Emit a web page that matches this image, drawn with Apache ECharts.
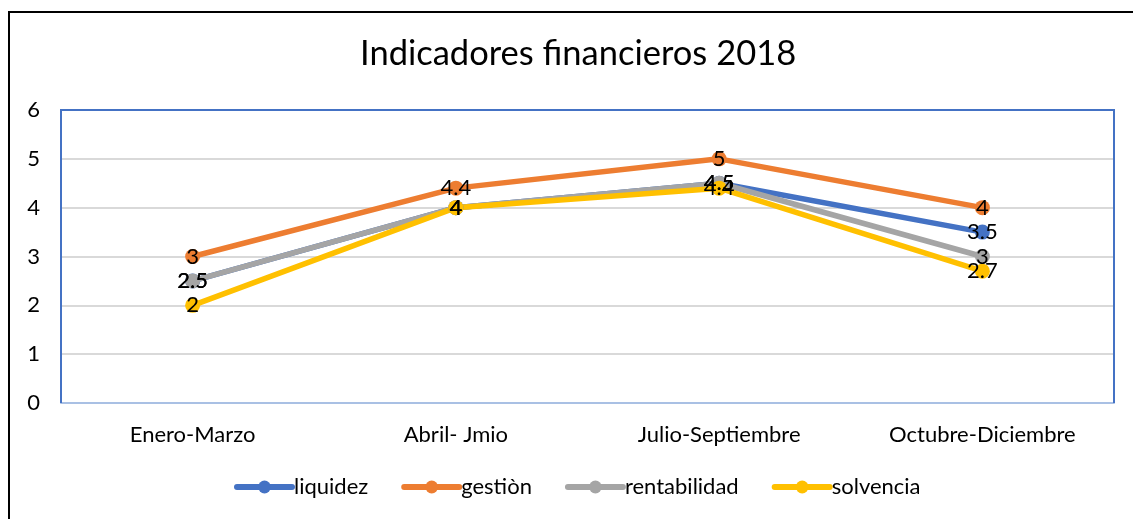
<!DOCTYPE html>
<html><head><meta charset="utf-8">
<script src="https://cdn.jsdelivr.net/npm/echarts@6/dist/echarts.min.js"></script>
<style>
html,body{margin:0;padding:0;background:#fff;overflow:hidden;}
#frame{position:absolute;left:8px;top:11px;width:1200px;height:600px;border:2px solid #000;box-sizing:border-box;}
#c{position:absolute;left:0;top:0;width:1133px;height:519px;}
</style></head>
<body>
<div id="frame"></div>
<div id="c"></div>
<script>
const categories = ['Enero-Marzo', 'Abril- Jmio', 'Julio-Septiembre', 'Octubre-Diciembre'];
const liquidez = [2.5, 4, 4.5, 3.5];
const gestion = [3, 4.4, 5, 4];
const rentabilidad = [2.5, 4, 4.5, 3];
const solvencia = [2, 4, 4.4, 2.7];
const seriesNames = ['liquidez', 'gestiòn', 'rentabilidad', 'solvencia'];
const colors = ['#4472C4', '#ED7D31', '#A5A5A5', '#FFC000'];
const yTicks = [0, 1, 2, 3, 4, 5, 6];

const font = 'Lato';
const G = {left: 61, right: 19, top: 110, bottom: 116};
const R = 1133 - G.right, B = 519 - G.bottom;
const chart = echarts.init(document.getElementById('c'));
const mk = (name, data, color) => ({
  name, type: 'line', data,
  symbol: 'circle', symbolSize: 15,
  lineStyle: {width: 5.5, color, cap: 'round'},
  itemStyle: {color},
  label: {show: true, position: 'inside', color: '#000', fontSize: 22, fontFamily: font},
  emphasis: {disabled: true},
  animation: false
});
chart.setOption({
  animation: false,
  title: {text: 'Indicadores financieros 2018', left: 355, top: 31,
    textStyle: {fontFamily: font, fontWeight: 'normal', fontSize: 34.5, color: '#000'}},
  grid: G,
  graphic: [{type: 'polyline', z: 100, silent: true,
    shape: {points: [[G.left, B], [G.left, G.top], [R, G.top], [R, B]]},
    style: {fill: 'none', stroke: '#4472C4', lineWidth: 2}}],
  xAxis: {type: 'category', data: categories, boundaryGap: true,
    axisLine: {lineStyle: {color: '#A9C0E4', width: 2}}, axisTick: {show: false},
    axisLabel: {fontFamily: font, fontSize: 22, color: '#000', margin: 21}},
  yAxis: {type: 'value', min: yTicks[0], max: yTicks[yTicks.length-1], interval: 1,
    axisLine: {show: false}, axisTick: {show: false},
    splitLine: {lineStyle: {color: '#D9D9D9', width: 2}},
    axisLabel: {fontFamily: font, fontSize: 22, color: '#000', margin: 21}},
  legend: {bottom: 16, left: 229, itemWidth: 55, itemHeight: 16, itemGap: 33,
    lineStyle: {width: 6, cap: 'round'},
    textStyle: {fontFamily: font, fontSize: 22, color: '#000', padding: [0, 0, 0, -3]},
    data: seriesNames},
  series: [
    mk(seriesNames[0], liquidez, colors[0]),
    mk(seriesNames[1], gestion, colors[1]),
    mk(seriesNames[2], rentabilidad, colors[2]),
    mk(seriesNames[3], solvencia, colors[3])
  ]
});
</script>
</body></html>
